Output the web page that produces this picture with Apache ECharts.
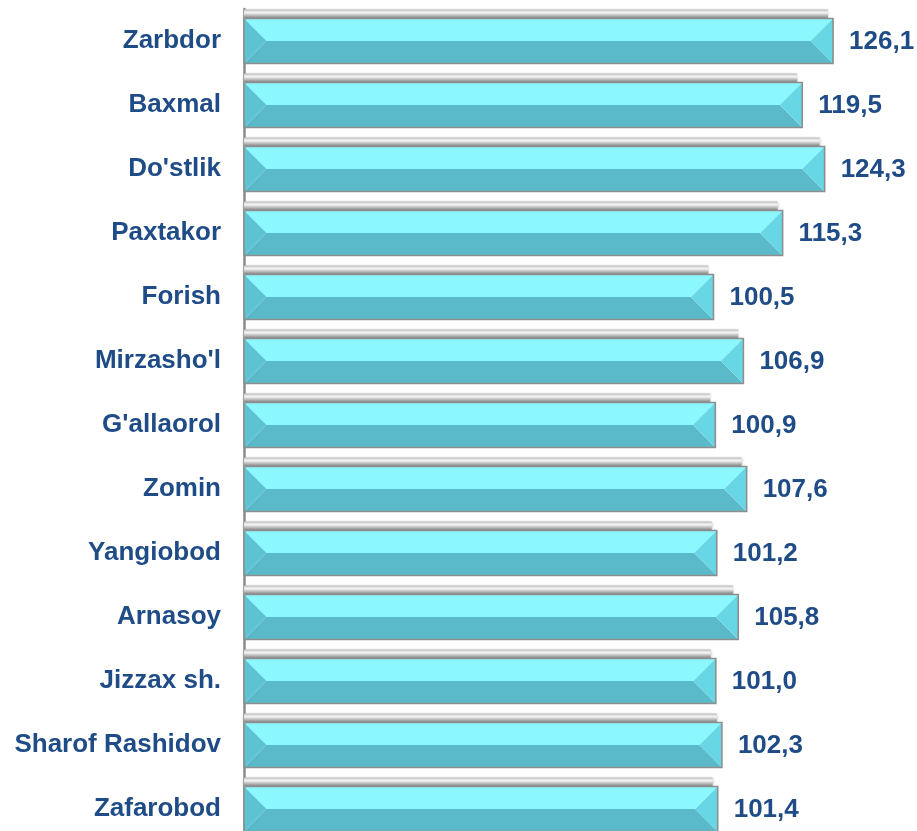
<!DOCTYPE html>
<html>
<head>
<meta charset="utf-8">
<script src="https://cdn.jsdelivr.net/npm/echarts@6/dist/echarts.min.js"></script>
<style>html,body{margin:0;padding:0;background:#fff;overflow:hidden}#c{width:917px;height:841px}</style>
</head>
<body>
<div id="c"></div>
<script>
const categories = ["Zarbdor","Baxmal","Do'stlik","Paxtakor","Forish","Mirzasho'l","G'allaorol","Zomin","Yangiobod","Arnasoy","Jizzax sh.","Sharof Rashidov","Zafarobod"];
const values = [126.1,119.5,124.3,115.3,100.5,106.9,100.9,107.6,101.2,105.8,101.0,102.3,101.4];
const valueLabels = ["126,1","119,5","124,3","115,3","100,5","106,9","100,9","107,6","101,2","105,8","101,0","102,3","101,4"];

const TXT = '#1F4C86';
const FONT = '"Liberation Sans", Arial, sans-serif';
const chart = echarts.init(document.getElementById('c'), null, {renderer:'canvas'});

function renderItem(params, api) {
  const idx = api.value(1);
  const v = api.value(0);
  const start = api.coord([0, idx]);
  const end = api.coord([v, idx]);
  const band = api.size([0, 1])[1];
  const bh = band * 0.703;
  const x0 = start[0], x1 = end[0], yc = start[1];
  const y0 = yc - bh / 2, y1 = yc + bh / 2, ym = yc;
  const d = bh / 2;
  const shTop = yc - band / 2 + 0.5;
  const children = [
    {type:'rect', shape:{x:x0, y:shTop, width:(x1 - x0) - 5, height:y0 - shTop},
     style:{fill:new echarts.graphic.LinearGradient(0,0,0,1,[
       {offset:0,color:'#BDBDBD'},{offset:0.35,color:'#F6F6F6'},{offset:0.7,color:'#B4B4B4'},{offset:1,color:'#7C7C7C'}]),
       shadowBlur:3, shadowColor:'rgba(120,120,120,0.5)'}},
    {type:'polygon', shape:{points:[[x0,y0],[x1,y0],[x1-d,ym],[x0+d,ym]]}, style:{fill:'#8AF8FE'}},
    {type:'polygon', shape:{points:[[x0+d,ym],[x1-d,ym],[x1,y1],[x0,y1]]}, style:{fill:'#5ABACA'}},
    {type:'polygon', shape:{points:[[x0,y0],[x0+d,ym],[x0,y1]]}, style:{fill:'#5DC3D3'}},
    {type:'polygon', shape:{points:[[x1,y0],[x1,y1],[x1-d,ym]]}, style:{fill:'#68D7E5'}},
    {type:'rect', shape:{x:x0, y:y0, width:x1 - x0, height:bh},
     style:{fill:'none', stroke:'#8E8E8E', lineWidth:1.6}},
    {type:'text', x:x1 + 16, y:yc + 1,
     style:{text:valueLabels[idx], fill:TXT, font:'bold 26px ' + FONT, textVerticalAlign:'middle', textAlign:'left'}}
  ];
  return {type:'group', children:children};
}

chart.setOption({
  animation:false,
  backgroundColor:'#fff',
  grid:{left:244, right:19, top:9, bottom:0},
  xAxis:{type:'value', min:0, max:140, show:false},
  yAxis:{type:'category', data:categories, inverse:true,
    axisLine:{show:true, lineStyle:{color:'#8A8A8A', width:2.5}},
    axisTick:{show:false},
    axisLabel:{color:TXT, fontSize:26, fontWeight:'bold', fontFamily:FONT, margin:23},
    splitLine:{show:false}},
  series:[{
    type:'custom',
    renderItem:renderItem,
    encode:{x:0, y:1},
    data:values.map((v,i)=>[v,i]),
    z:1
  }]
});
</script>
</body>
</html>
